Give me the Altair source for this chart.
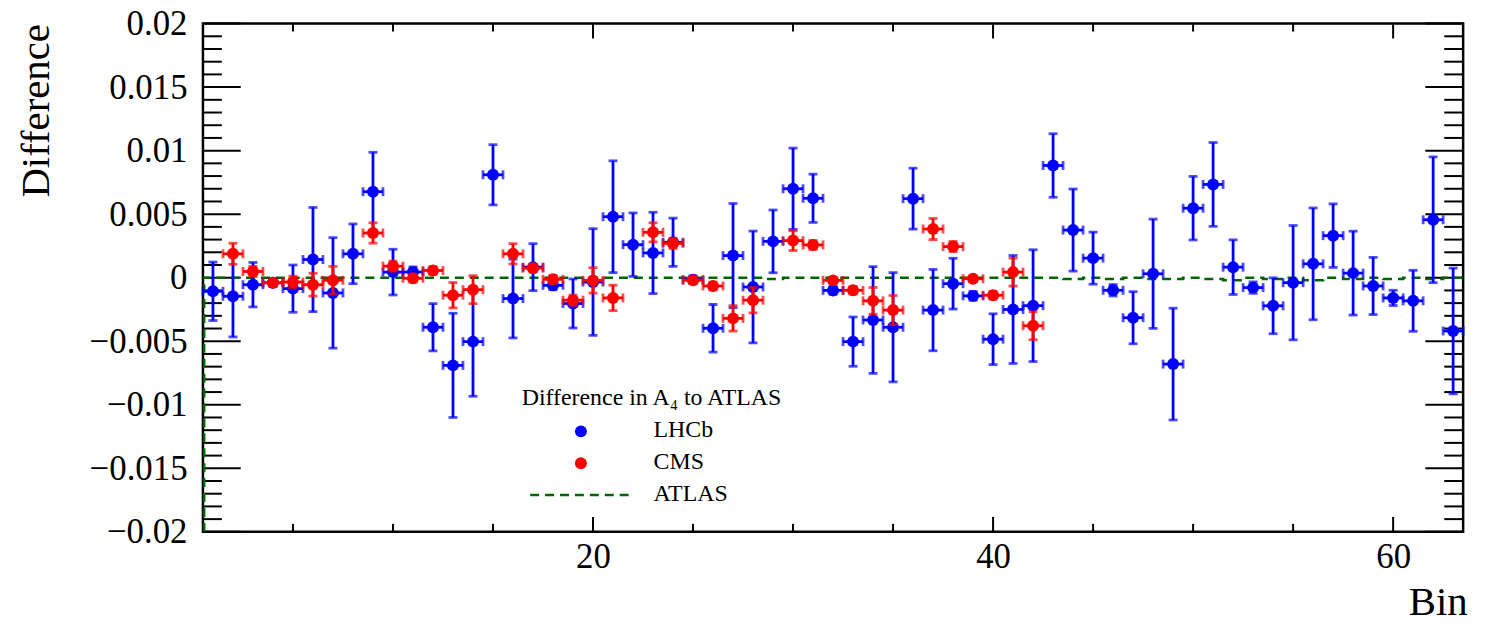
import altair as alt
import pandas as pd

# ---------------- data ----------------
bins = list(range(1, 64))

lhcb_val = [-0.00107, -0.00146, -0.00055, -0.00040, -0.00086, 0.00143, -0.00120, 0.00188, 0.00677, 0.00044,
            0.00045, -0.00390, -0.00690, -0.00503, 0.00810, -0.00164, 0.00083, -0.00060, -0.00203, -0.00034,
            0.00480, 0.00260, 0.00195, 0.00279, -0.00016, -0.00398, 0.00174, -0.00073, 0.00286, 0.00700,
            0.00625, -0.00100, -0.00503, -0.00333, -0.00390, 0.00622, -0.00255, -0.00047, -0.00143, -0.00484,
            -0.00250, -0.00220, 0.00883, 0.00375, 0.00154, -0.00099, -0.00315, 0.00031, -0.00680, 0.00547,
            0.00734, 0.00083, -0.00078, -0.00221, -0.00039, 0.00109, 0.00331, 0.00036, -0.00065, -0.00159,
            -0.00182, 0.00456, -0.00419]
lhcb_err = [0.0023, 0.0032, 0.00175, 0.00030, 0.00186, 0.0041, 0.00435, 0.00235, 0.0031, 0.0018,
            0.0004, 0.00186, 0.0041, 0.0043, 0.00237, 0.0031, 0.00185, 0.00035, 0.00193, 0.0042,
            0.0044, 0.0025, 0.0032, 0.0019, 0.0003, 0.00187, 0.0041, 0.0044, 0.00247, 0.0032,
            0.0019, 0.0003, 0.00194, 0.0042, 0.0043, 0.0024, 0.0032, 0.0020, 0.00035, 0.0020,
            0.00425, 0.0044, 0.0025, 0.00323, 0.00205, 0.00045, 0.00205, 0.0043, 0.0044, 0.0025,
            0.0033, 0.00215, 0.00045, 0.0022, 0.0045, 0.0044, 0.0025, 0.0033, 0.00225, 0.0006,
            0.0024, 0.00495, 0.00495]

cms_bins = [2, 3, 4, 5, 6, 7, 9, 10, 11, 12, 13, 14, 16, 17, 18, 19, 20, 21,
            23, 24, 25, 26, 27, 28, 30, 31, 32, 33, 34, 35, 37, 38, 39, 40, 41, 42]
cms_val = [0.00188, 0.00049, -0.00039, -0.00034, -0.00055, -0.00020, 0.00352, 0.00091, -0.00005, 0.00057,
           -0.00138, -0.00094, 0.00188, 0.00075, -0.00013, -0.00177, -0.00021, -0.00159,
           0.00357, 0.00270, -0.00020, -0.00065, -0.00320, -0.00177, 0.00292, 0.00258, -0.00021, -0.00099,
           -0.00182, -0.00255, 0.00383, 0.00245, -0.00008, -0.00138, 0.00044, -0.00378]
cms_err = [0.00083, 0.0004, 0.0002, 0.00045, 0.0009, 0.0011, 0.0008, 0.0004, 0.0003, 0.0003,
           0.0010, 0.0011, 0.0008, 0.0003, 0.0003, 0.0004, 0.0010, 0.0010,
           0.00075, 0.0004, 0.0002, 0.0003, 0.0010, 0.0010, 0.00078, 0.00035, 0.0002, 0.0003,
           0.00105, 0.00115, 0.00083, 0.0004, 0.0002, 0.0003, 0.0011, 0.0011]

atlas_val = [0.0, 0.0, 0.0, 0.0, 0.0, 0.0, 0.0, 0.0, 0.0, 0.0,
             0.0, 0.0, 0.0, 0.0, 0.0, 0.0, 0.0, 0.0, 0.0, 0.0,
             0.0, 0.0, 0.0, 0.0, 0.0, 0.0, 0.0, 0.0, -0.0001, 0.0,
             0.0, 0.0, 0.0, 0.0, 0.0, 0.0, 0.0, 0.0, 0.0, 0.0,
             0.0, 0.0, 0.0, -0.0001, 0.0, -0.0001, 0.0, -0.0001, -0.0001, 0.0,
             -0.0001, -0.0002, 0.0, -0.0001, 0.0, -0.0002, 0.0, -0.0001, 0.0, -0.0001,
             0.0, -0.0001, 0.0]

y_tick_labels = [-0.02, -0.015, -0.01, -0.005, 0, 0.005, 0.01, 0.015, 0.02]
x_tick_labels = [20, 40, 60]

# ---------------- geometry / style ----------------
W, H = 1267, 511
XMIN, XMAX = 0.5, 63.5
YMIN, YMAX = -0.02, 0.02
SERIF = "Liberation Serif"
BLUE, RED, GREEN = "#0000ff", "#ff0000", "#006400"
LW = 2.8

xs = alt.Scale(domain=[XMIN, XMAX], nice=False, zero=False)
ys = alt.Scale(domain=[YMIN, YMAX], nice=False, zero=False)

xax = alt.Axis(values=x_tick_labels, title="Bin", grid=False, domain=False, ticks=False,
               labelFont=SERIF, labelFontSize=35, labelColor="black", labelPadding=8,
               labelFlush=False,
               titleFont=SERIF, titleFontSize=41, titleFontWeight="normal", titleColor="black",
               titleAnchor="end", titleAlign="right", titleBaseline="alphabetic",
               titleX=W + 4, titleY=83)
yax = alt.Axis(values=y_tick_labels, title="Difference", grid=False, domain=False, ticks=False,
               labelFont=SERIF, labelFontSize=35, labelColor="black", labelPadding=16,
               labelExpr="datum.value == 0 ? '0' : format(datum.value, '~g')",
               labelFlush=False,
               titleFont=SERIF, titleFontSize=41, titleFontWeight="normal", titleColor="black",
               titleAnchor="end", titleAngle=-90, titleAlign="right", titleBaseline="alphabetic",
               titleX=-155, titleY=0)


def X(f):
    return alt.X(f, type="quantitative", scale=xs, axis=xax)


def Y(f):
    return alt.Y(f, type="quantitative", scale=ys, axis=yax)


# ---------------- tables ----------------
def series_df(b, v, e):
    d = pd.DataFrame({"bin": b, "val": v, "err": e})
    d["lo"] = d["val"] - d["err"]
    d["hi"] = d["val"] + d["err"]
    d["xlo"] = d["bin"] - 0.5
    d["xhi"] = d["bin"] + 0.5
    return d


lhcb = series_df(bins, lhcb_val, lhcb_err)
cms = series_df(cms_bins, cms_val, cms_err)

# ATLAS histogram outline (step), starting from the bottom of the frame as ROOT does
ax_x, ax_y = [XMIN + 0.06], [YMIN]
ax_x.append(XMIN + 0.06)
ax_y.append(atlas_val[0])
for b, v in zip(bins, atlas_val):
    ax_x += [b - 0.5, b + 0.5]
    ax_y += [v, v]
atlas = pd.DataFrame({"x": ax_x, "y": ax_y, "i": list(range(len(ax_x)))})

# frame ticks (ROOT style, inside the frame)
y_minor = [round(YMIN + 0.001 * i, 3) for i in range(41)]
y_ticks = pd.DataFrame({"v": y_minor, "major": [i % 5 == 0 for i in range(41)]})
x_ticks = pd.DataFrame({"v": [5, 10, 15, 20, 25, 30, 35, 40, 45, 50, 55, 60],
                        "major": [False, False, False, True, False, False, False, True, False, False, False, True]})

layers = []

# tick marks
TK = dict(color="black", strokeWidth=2)
ymaj = y_ticks[y_ticks.major]
ymin_ = y_ticks[~y_ticks.major]
xmaj = x_ticks[x_ticks.major]
xmin_ = x_ticks[~x_ticks.major]
for df, L in [(ymaj, 38), (ymin_, 19)]:
    layers.append(alt.Chart(df).mark_rule(**TK).encode(x=alt.value(0), x2=alt.value(L), y=Y("v")))
    layers.append(alt.Chart(df).mark_rule(**TK).encode(x=alt.value(W - L), x2=alt.value(W), y=Y("v")))
for df, L in [(xmaj, 15), (xmin_, 8)]:
    layers.append(alt.Chart(df).mark_rule(**TK).encode(x=X("v"), y=alt.value(H), y2=alt.value(H - L)))
    layers.append(alt.Chart(df).mark_rule(**TK).encode(x=X("v"), y=alt.value(0), y2=alt.value(L)))

# ATLAS dashed line
layers.append(alt.Chart(atlas).mark_line(color=GREEN, strokeWidth=2.6, strokeDash=[9, 6], clip=True).encode(
    x=X("x"), y=Y("y"), order="i:Q"))


def err_layers(d, c):
    base = alt.Chart(d)
    out = [
        base.mark_rule(color=c, strokeWidth=LW).encode(x=X("bin"), y=Y("lo"), y2="hi"),
        base.mark_rule(color=c, strokeWidth=LW).encode(x=X("xlo"), x2="xhi", y=Y("val")),
        base.mark_tick(color=c, orient="horizontal", size=9, thickness=LW).encode(x=X("bin"), y=Y("lo")),
        base.mark_tick(color=c, orient="horizontal", size=9, thickness=LW).encode(x=X("bin"), y=Y("hi")),
        base.mark_tick(color=c, orient="vertical", size=9, thickness=LW).encode(x=X("xlo"), y=Y("val")),
        base.mark_tick(color=c, orient="vertical", size=9, thickness=LW).encode(x=X("xhi"), y=Y("val")),
        base.mark_circle(color=c, opacity=1, size=145).encode(x=X("bin"), y=Y("val")),
    ]
    return out


layers += err_layers(lhcb, BLUE)
layers += err_layers(cms, RED)

# legend (drawn by hand, ROOT TLegend style)
one = pd.DataFrame({"k": [0]})
LF = dict(font=SERIF, color="black", fontSize=24, baseline="alphabetic")
layers += [
    alt.Chart(one).mark_text(text="Difference in A\u2084 to ATLAS", align="center", **LF).encode(
        x=alt.value(451), y=alt.value(383)),
    alt.Chart(one).mark_circle(color=BLUE, opacity=1, size=145).encode(x=alt.value(380), y=alt.value(410)),
    alt.Chart(one).mark_circle(color=RED, opacity=1, size=145).encode(x=alt.value(380), y=alt.value(442)),
    alt.Chart(one).mark_rule(color=GREEN, strokeWidth=2.6, strokeDash=[9, 6]).encode(
        x=alt.value(329), x2=alt.value(429), y=alt.value(474)),
    alt.Chart(one).mark_text(text="LHCb", align="left", **LF).encode(x=alt.value(453), y=alt.value(416)),
    alt.Chart(one).mark_text(text="CMS", align="left", **LF).encode(x=alt.value(453), y=alt.value(448)),
    alt.Chart(one).mark_text(text="ATLAS", align="left", **LF).encode(x=alt.value(453), y=alt.value(480)),
]

chart = alt.layer(*layers).properties(
    width=W, height=H,
    padding={"left": 196, "top": 14, "right": 25, "bottom": 90},
    autosize=alt.AutoSizeParams(type="none"),
    background="white",
).configure_view(stroke="black", strokeWidth=2.5)

chart.save("out.html", embed_options={"renderer": "svg", "actions": False})
